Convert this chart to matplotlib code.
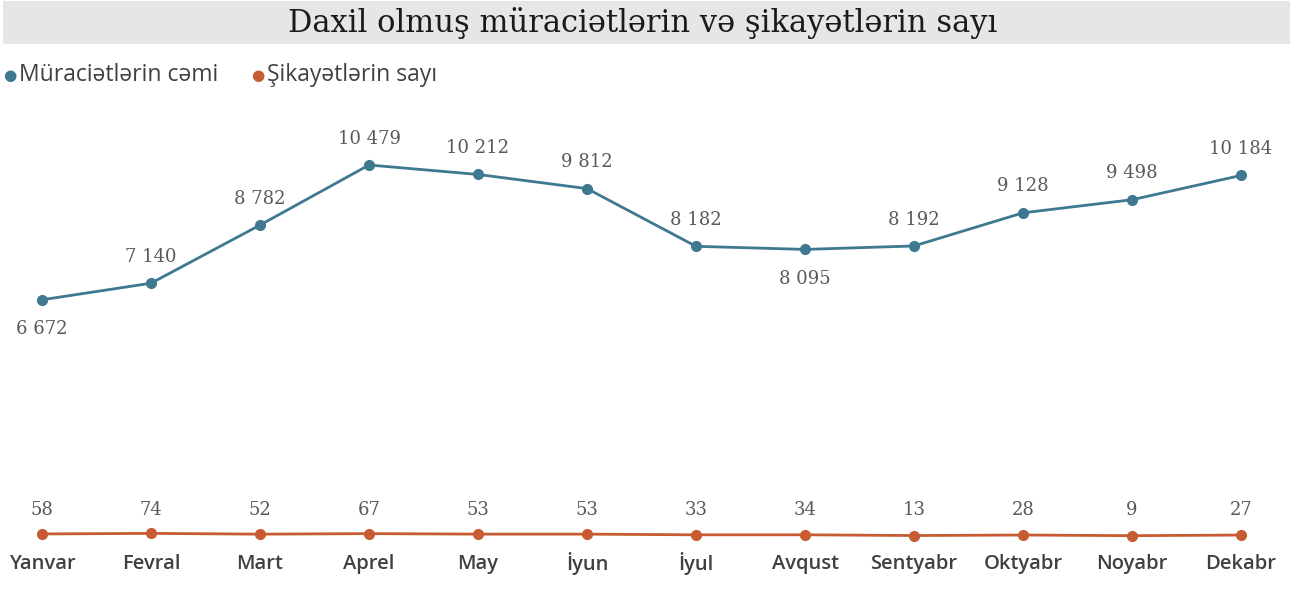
import matplotlib.pyplot as plt
from matplotlib.patches import Rectangle

months = ['Yanvar', 'Fevral', 'Mart', 'Aprel', 'May', 'İyun',
          'İyul', 'Avqust', 'Sentyabr', 'Oktyabr', 'Noyabr', 'Dekabr']
muraciet = [6672, 7140, 8782, 10479, 10212, 9812, 8182, 8095, 8192, 9128, 9498, 10184]
sikayet = [58, 74, 52, 67, 53, 53, 33, 34, 13, 28, 9, 27]
below = [0, 7]  # label under the point for these months

blue = '#3f7891'
orange = '#c75b31'
label_color = '#595959'

fig = plt.figure(figsize=(12.96, 5.96), dpi=100)

# title band
fig.patches.append(Rectangle((3 / 1296, 1 - 44 / 596), 1287 / 1296, 43 / 596,
                             transform=fig.transFigure, facecolor='#e6e6e6',
                             edgecolor='none', zorder=0))
fig.text(643 / 1296, 1 - 23 / 596, 'Daxil olmuş müraciətlərin və şikayətlərin sayı',
         ha='center', va='center', fontsize=22, family='DejaVu Serif', color='#1a1a1a')

# legend
fig.text(10 / 1296, 1 - 75 / 596, '●', color=blue, fontsize=11, va='center', ha='center')
fig.text(19 / 1296, 1 - 75 / 596, 'Müraciətlərin cəmi', color='#404040', fontsize=16.5,
         va='center', ha='left', family='Open Sans')
fig.text(258 / 1296, 1 - 75 / 596, '●', color=orange, fontsize=11, va='center', ha='center')
fig.text(267 / 1296, 1 - 75 / 596, 'Şikayətlərin sayı', color='#404040', fontsize=16.5,
         va='center', ha='left', family='Open Sans')

ax = fig.add_axes([42 / 1296, 60 / 596, 1199 / 1296, 371 / 596])
x = list(range(len(months)))
ax.plot(x, muraciet, color=blue, lw=2, marker='o', ms=7, clip_on=False)
ax.plot(x, sikayet, color=orange, lw=2, marker='o', ms=7, clip_on=False)
ax.set_xlim(0, 11)
ax.set_ylim(0, 10479)
ax.axis('off')

for i, v in enumerate(muraciet):
    lab = f'{v:,}'.replace(',', ' ')
    dy = -21 if i in below else 19
    ax.annotate(lab, (i, v), xytext=(0, dy), textcoords='offset points',
                ha='center', va='center', fontsize=13, color=label_color,
                family='DejaVu Serif')

for i, v in enumerate(sikayet):
    ax.annotate(str(v), (i, 0), xytext=(0, 19), textcoords='offset points',
                ha='center', va='center', fontsize=13, color=label_color,
                family='DejaVu Serif')
    ax.annotate(months[i], (i, 0), xytext=(0, -20), textcoords='offset points',
                ha='center', va='center', fontsize=14.5, color='#404040',
                family='Open Sans', fontweight='semibold')

plt.savefig('out.png', dpi=100)
